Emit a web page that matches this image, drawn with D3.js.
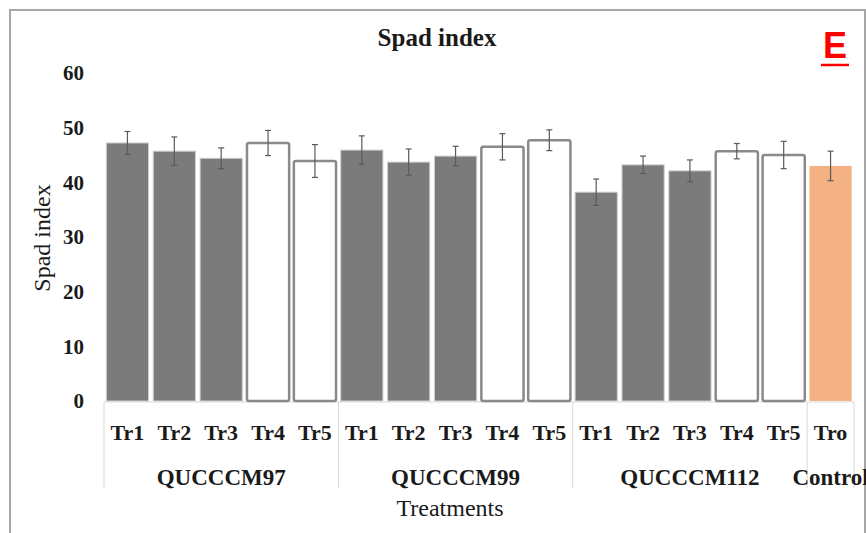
<!DOCTYPE html>
<head>
    <meta charset="utf-8">
    <script src="https://cdn.jsdelivr.net/npm/d3@7"></script>
    <style>
        body { margin: 0; background: #fff; }
        .serif { font-family: "Liberation Serif", "Times New Roman", serif; }
    </style>
</head>
<body>
    <div id="chart"></div>
    <script>
        const width = 866, height = 533;

        // données
        const groups = ["QUCCCM97", "QUCCCM99", "QUCCCM112", "Control"];
        const treatments = ["Tr1", "Tr2", "Tr3", "Tr4", "Tr5", "Tr1", "Tr2", "Tr3", "Tr4", "Tr5", "Tr1", "Tr2", "Tr3", "Tr4", "Tr5", "Tro"];
        const groupOf = [0, 0, 0, 0, 0, 1, 1, 1, 1, 1, 2, 2, 2, 2, 2, 3];
        const spad = [47.2, 45.7, 44.4, 47.2, 43.9, 45.9, 43.7, 44.8, 46.5, 47.7, 38.2, 43.2, 42.1, 45.7, 45.0, 43.0];
        const spadErr = [2.1, 2.6, 1.9, 2.3, 3.0, 2.6, 2.4, 1.8, 2.4, 1.9, 2.4, 1.6, 2.0, 1.4, 2.5, 2.7];
        const barKind = ["dark", "dark", "dark", "open", "open", "dark", "dark", "dark", "open", "open", "dark", "dark", "dark", "open", "open", "control"];
        const yTicks = [0, 10, 20, 30, 40, 50, 60];

        const svg = d3.select("#chart").append("svg")
            .attr("width", width)
            .attr("height", height);

        // cadre gris autour de la figure
        svg.append("rect")
            .attr("x", 10).attr("y", 10)
            .attr("width", 855).attr("height", 540)
            .attr("fill", "none")
            .attr("stroke", "#a6a6a6")
            .attr("stroke-width", 2);

        const idx = d3.range(spad.length);

        const x = d3.scaleBand()
            .domain(idx)
            .range([104, 854])
            .paddingInner(0.1)
            .paddingOuter(0.05);

        const y = d3.scaleLinear()
            .domain([0, 60])
            .range([401, 73]);

        const step = x.step();
        const cellLeft = i => x(i) - step * 0.05;

        // axe Y (étiquettes seulement)
        const yAxis = svg.append("g")
            .attr("transform", "translate(84,0)")
            .call(d3.axisLeft(y).tickValues(yTicks).tickSize(0).tickPadding(0));
        yAxis.select(".domain").remove();
        yAxis.selectAll("text")
            .attr("class", "serif")
            .attr("font-size", 21)
            .attr("font-weight", "bold")
            .attr("fill", "#1a1a1a");

        // ligne de base
        svg.append("line")
            .attr("x1", 104).attr("x2", 854)
            .attr("y1", y(0) + 1).attr("y2", y(0) + 1)
            .attr("stroke", "#d9d9d9");

        // séparateurs de groupes
        const sepIdx = [0, 5, 10, 15];
        svg.selectAll(".sep")
            .data(sepIdx)
            .enter().append("line")
            .attr("x1", d => cellLeft(d)).attr("x2", d => cellLeft(d))
            .attr("y1", y(0) + 1).attr("y2", 488)
            .attr("stroke", "#d9d9d9");
        svg.append("line")
            .attr("x1", cellLeft(15) + step).attr("x2", cellLeft(15) + step)
            .attr("y1", y(0) + 1).attr("y2", 488)
            .attr("stroke", "#d9d9d9");

        // barres
        const fillOf = { dark: "#7b7b7b", open: "#ffffff", control: "#f4b183" };
        const strokeOf = { dark: "#cfcfcf", open: "#8a8a8a", control: "none" };
        svg.selectAll(".bar")
            .data(idx)
            .enter().append("rect")
            .attr("class", "bar")
            .attr("x", i => x(i))
            .attr("y", i => y(spad[i]))
            .attr("width", x.bandwidth())
            .attr("height", i => y(0) - y(spad[i]))
            .attr("rx", i => barKind[i] === "open" ? 2 : 0)
            .attr("fill", i => fillOf[barKind[i]])
            .attr("stroke", i => strokeOf[barKind[i]])
            .attr("stroke-width", i => barKind[i] === "open" ? 2.5 : 1);

        // barres d'erreur
        const err = svg.append("g").attr("stroke", "#5a5a5a").attr("stroke-width", 1.2);
        idx.forEach(i => {
            const cx = x(i) + x.bandwidth() / 2;
            const top = y(spad[i] + spadErr[i]), bot = y(spad[i] - spadErr[i]);
            err.append("line").attr("x1", cx).attr("x2", cx).attr("y1", top).attr("y2", bot);
            err.append("line").attr("x1", cx - 3).attr("x2", cx + 3).attr("y1", top).attr("y2", top);
            err.append("line").attr("x1", cx - 3).attr("x2", cx + 3).attr("y1", bot).attr("y2", bot);
        });

        // étiquettes des traitements
        svg.selectAll(".tr")
            .data(idx)
            .enter().append("text")
            .attr("class", "serif")
            .attr("x", i => x(i) + x.bandwidth() / 2)
            .attr("y", 440)
            .attr("text-anchor", "middle")
            .attr("font-size", 22)
            .attr("font-weight", "bold")
            .attr("fill", "#1a1a1a")
            .text(i => treatments[i]);

        // étiquettes des groupes
        svg.selectAll(".grp")
            .data(groups)
            .enter().append("text")
            .attr("class", "serif")
            .attr("x", (g, gi) => {
                const members = idx.filter(i => groupOf[i] === gi);
                return (cellLeft(members[0]) + cellLeft(members[members.length - 1]) + step) / 2;
            })
            .attr("y", 485)
            .attr("text-anchor", "middle")
            .attr("font-size", 23)
            .attr("font-weight", "bold")
            .attr("fill", "#1a1a1a")
            .text(d => d);

        // titres
        svg.append("text")
            .attr("class", "serif")
            .attr("x", 437).attr("y", 46)
            .attr("text-anchor", "middle")
            .attr("font-size", 25)
            .attr("font-weight", "bold")
            .attr("fill", "#1a1a1a")
            .text("Spad index");

        svg.append("text")
            .attr("class", "serif")
            .attr("x", 450).attr("y", 516)
            .attr("text-anchor", "middle")
            .attr("font-size", 24)
            .attr("fill", "#1a1a1a")
            .text("Treatments");

        svg.append("text")
            .attr("class", "serif")
            .attr("transform", "translate(50,238) rotate(-90)")
            .attr("text-anchor", "middle")
            .attr("font-size", 24)
            .attr("fill", "#1a1a1a")
            .text("Spad index");

        // lettre du panneau
        svg.append("text")
            .attr("x", 835).attr("y", 58)
            .attr("text-anchor", "middle")
            .style("font-family", "'Liberation Sans', Arial, sans-serif")
            .style("font-size", "36px")
            .style("font-weight", "bold")
            .attr("fill", "#ff0000")
            .text("E");
        svg.append("line")
            .attr("x1", 821).attr("x2", 849)
            .attr("y1", 65).attr("y2", 65)
            .attr("stroke", "#ff0000")
            .attr("stroke-width", 2.5);
    </script>
</body>
